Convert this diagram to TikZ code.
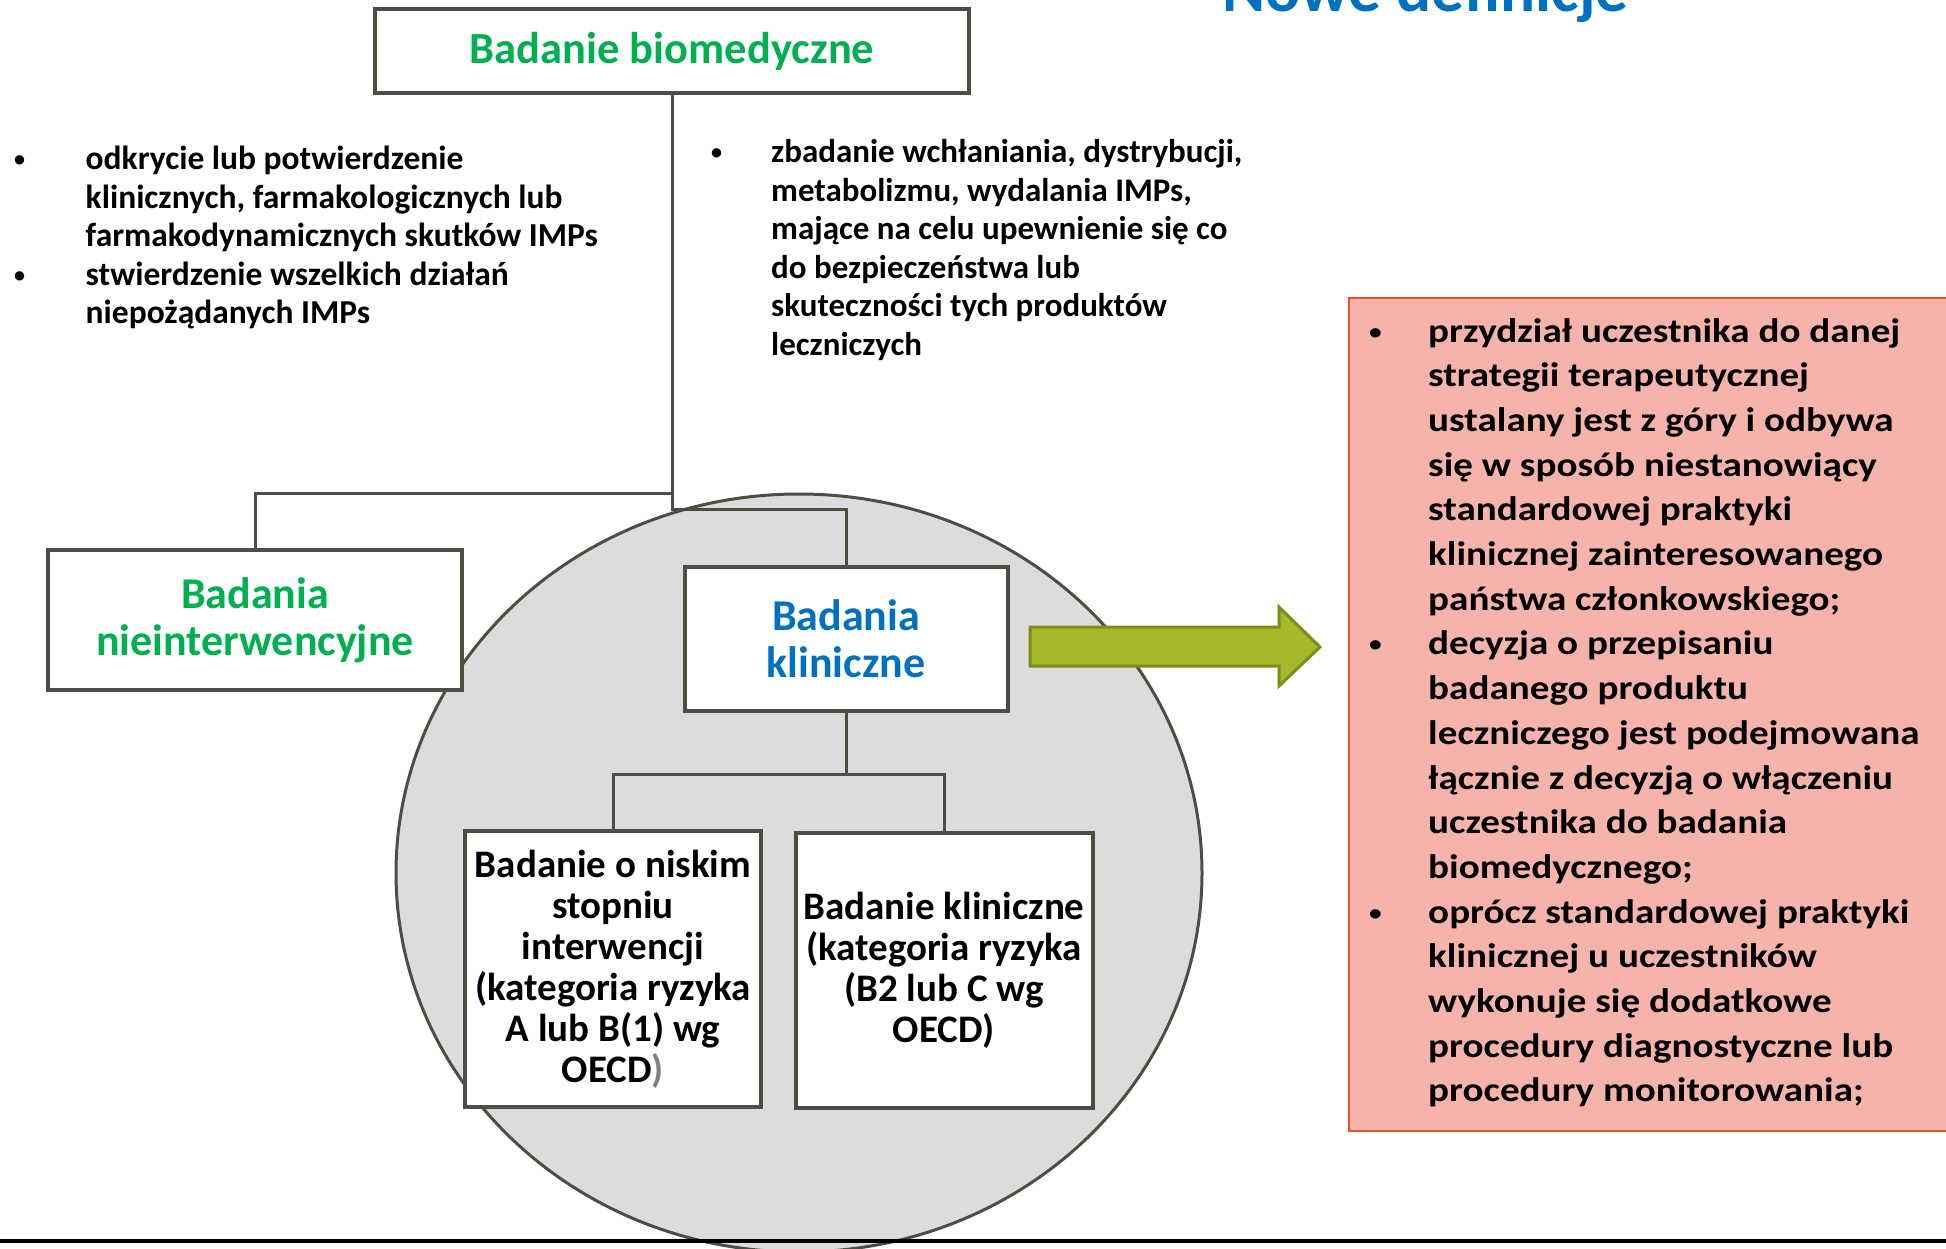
\documentclass[tikz,border=0pt]{standalone}
\usepackage{fontspec}
\setmainfont{Carlito}
\newfontfamily\wideFont[FakeStretch=1.15]{Carlito}
\usepackage{xcolor}
\usetikzlibrary{positioning}

\definecolor{bioGreen}{HTML}{00B050}
\definecolor{clinBlue}{HTML}{0070C0}
\definecolor{lineGray}{HTML}{4D4D43}
\definecolor{circGray}{HTML}{DCDCDC}
\definecolor{arrowFill}{HTML}{A5B82A}
\definecolor{arrowLine}{HTML}{7F8C1A}
\definecolor{defFill}{HTML}{F5B3AB}
\definecolor{defLine}{HTML}{E2552D}

\newcommand\fsz[2]{\fontsize{#1}{#2}\selectfont}
\newcommand\bulletDot{\raisebox{3pt}{\fsz{22}{22}\textbullet}}

\begin{document}
\begin{tikzpicture}[x=1pt,y=-1pt,
        Box/.style={draw=lineGray, line width=4pt, fill=white, inner sep=0pt, align=center},
        Conn/.style={draw=lineGray, line width=3pt},
        Bullets/.style={anchor=base west, inner sep=0pt},
    ]
    \clip (0,0) rectangle (1946,1249);

    % title, cut off at the top
    \node[anchor=base west, inner sep=0pt, text=clinBlue, font=\bfseries\fsz{65.5}{70}] (title) at (1222,12) {Nowe definicje};

    % grey circle behind the clinical part
    \draw[fill=circGray, draw=lineGray, line width=3pt] (799,873) ellipse [x radius=403pt, y radius=379pt];

    \node[Box, minimum width=594pt, minimum height=84pt, text=bioGreen, font=\bfseries\fsz{44.5}{48}] (bio) at (672,51) {Badanie biomedyczne};
    \node[Box, minimum width=414pt, minimum height=140pt, text=bioGreen, font=\bfseries\fsz{44}{47}] (nonint) at (255,620) {Badania\\nieinterwencyjne};
    \node[Box, minimum width=323pt, minimum height=144pt, text=clinBlue, font=\bfseries\fsz{44}{47}] (clin) at (846,639) {Badania\\kliniczne};
    \node[Box, minimum width=296pt, minimum height=276pt, font=\bfseries\fsz{39}{41}] (lowint) at (613,969) {Badanie o niskim\\stopniu\\interwencji\\(kategoria ryzyka\\A lub B(1) wg\\OECD{\color{gray})}};
    \node[Box, minimum width=297pt, minimum height=275pt, font=\bfseries\fsz{39}{41}] (clinB) at (944,970) {Badanie kliniczne\\(kategoria ryzyka\\(B2 lub C wg\\OECD)};

    % tree lines
    \draw[Conn] (nonint.north) |- (bio.south |- 0,493);
    \draw[Conn] (bio.south) -- (bio.south |- 0,509) -| (clin.north);
    \draw[Conn] (clin.south) -- (clin.south |- 0,774) coordinate (fork);
    \draw[Conn] (lowint.north) |- (fork) -| (clinB.north);

    % bullet texts
    \node[Bullets, font=\bfseries\fsz{33.5}{38.5}] (aims) at (14,170) {%
        \begin{tabular}[t]{@{}p{71.5pt}@{}l@{}}
        \bulletDot & odkrycie lub potwierdzenie\\
        & klinicznych, farmakologicznych lub\\
        & farmakodynamicznych skutków IMPs\\
        \bulletDot & stwierdzenie wszelkich działań\\
        & niepożądanych IMPs
        \end{tabular}};
    \node[Bullets, font=\bfseries\fsz{33}{38.5}] (pk) at (711,163) {%
        \begin{tabular}[t]{@{}p{60pt}@{}l@{}}
        \bulletDot & zbadanie wchłaniania, dystrybucji,\\
        & metabolizmu, wydalania IMPs,\\
        & mające na celu upewnienie się co\\
        & do bezpieczeństwa lub\\
        & skuteczności tych produktów\\
        & leczniczych
        \end{tabular}};

    % arrow to the definition
    \draw[fill=arrowFill, draw=arrowLine, line width=3pt] (1030,627) -- (1279,627) -- (1279,607) -- (1320,647) -- (1279,686) -- (1279,666) -- (1030,666) -- cycle;

    \draw[fill=defFill, draw=defLine, line width=2pt] (1349,298) rectangle (1960,1131);
    \node[Bullets, font=\wideFont\bfseries\fsz{34}{44.7}] (def) at (1369,342) {%
        \begin{tabular}[t]{@{}p{59pt}@{}l@{}}
        \bulletDot & przydział uczestnika do danej\\
        & strategii terapeutycznej\\
        & ustalany jest z góry i odbywa\\
        & się w sposób niestanowiący\\
        & standardowej praktyki\\
        & klinicznej zainteresowanego\\
        & państwa członkowskiego;\\
        \bulletDot & decyzja o przepisaniu\\
        & badanego produktu\\
        & leczniczego jest podejmowana\\
        & łącznie z decyzją o włączeniu\\
        & uczestnika do badania\\
        & biomedycznego;\\
        \bulletDot & oprócz standardowej praktyki\\
        & klinicznej u uczestników\\
        & wykonuje się dodatkowe\\
        & procedury diagnostyczne lub\\
        & procedury monitorowania;
        \end{tabular}};

    % bottom rule
    \draw[line width=4pt] (0,1241) -- (1946,1241);
\end{tikzpicture}
\end{document}
